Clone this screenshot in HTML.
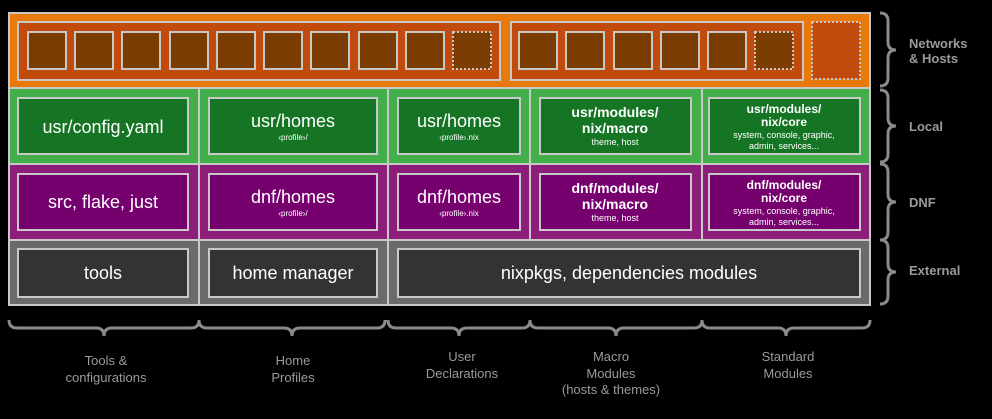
<!DOCTYPE html>
<html><head><meta charset="utf-8"><style>
html,body{margin:0;padding:0;background:#000;}
svg{display:block;}
text{font-family:"Liberation Sans","DejaVu Sans",sans-serif;fill:#fff;text-anchor:middle;}
.lbl{fill:#9a9a9a;font-weight:bold;font-size:13px;text-anchor:start;}
.bl{fill:#9a9a9a;font-size:13px;}
</style></head><body>
<svg width="992" height="419" viewBox="0 0 992 419" xmlns="http://www.w3.org/2000/svg">
<rect width="992" height="419" fill="#000"/>
<g stroke="#c8c8c8" stroke-width="2">
<!-- rows -->
<rect x="9" y="13" width="861" height="75" fill="#e87a0c"/>
<rect x="9" y="88" width="861" height="76" fill="#43ae4a"/>
<rect x="9" y="164" width="861" height="76" fill="#8c1d78"/>
<rect x="9" y="240" width="861" height="65" fill="#6a6a6a"/>
<line x1="199" y1="88" x2="199" y2="305"/>
<line x1="388" y1="88" x2="388" y2="305"/>
<line x1="530" y1="88" x2="530" y2="240"/>
<line x1="702" y1="88" x2="702" y2="240"/>
<!-- orange -->
<rect x="18" y="22" width="482" height="58" fill="#c14b0c"/>
<rect x="511" y="22" width="292" height="58" fill="#c14b0c"/>
<g fill="#7a3c00">
<rect x="28" y="32" width="38" height="37"/><rect x="75" y="32" width="38" height="37"/>
<rect x="122" y="32" width="38" height="37"/><rect x="170" y="32" width="38" height="37"/>
<rect x="217" y="32" width="38" height="37"/><rect x="264" y="32" width="38" height="37"/>
<rect x="311" y="32" width="38" height="37"/><rect x="359" y="32" width="38" height="37"/>
<rect x="406" y="32" width="38" height="37"/>
<rect x="519" y="32" width="38" height="37"/><rect x="566" y="32" width="38" height="37"/>
<rect x="614" y="32" width="38" height="37"/><rect x="661" y="32" width="38" height="37"/>
<rect x="708" y="32" width="38" height="37"/>
<rect x="453" y="32" width="38" height="37" stroke-dasharray="2,2"/>
<rect x="755" y="32" width="38" height="37" stroke-dasharray="2,2"/>
</g>
<rect x="812" y="22" width="48" height="57" fill="#c14b0c" stroke-dasharray="2,2"/>
<!-- green -->
<g fill="#167524">
<rect x="18" y="98" width="170" height="56"/><rect x="209" y="98" width="168" height="56"/>
<rect x="398" y="98" width="122" height="56"/><rect x="540" y="98" width="151" height="56"/>
<rect x="709" y="98" width="151" height="56"/>
</g>
<g fill="#76006e">
<rect x="18" y="174" width="170" height="56"/><rect x="209" y="174" width="168" height="56"/>
<rect x="398" y="174" width="122" height="56"/><rect x="540" y="174" width="151" height="56"/>
<rect x="709" y="174" width="151" height="56"/>
</g>
<g fill="#333">
<rect x="18" y="249" width="170" height="48"/><rect x="209" y="249" width="168" height="48"/>
<rect x="398" y="249" width="462" height="48"/>
</g>
</g>
<!-- text green -->
<text x="103" y="133" font-size="18">usr/config.yaml</text>
<text x="293" y="127" font-size="18">usr/homes</text>
<text x="293" y="140" font-size="8">‹profile›/</text>
<text x="459" y="127" font-size="18">usr/homes</text>
<text x="459" y="140" font-size="8">‹profile›.nix</text>
<text x="615" y="117" font-size="14" font-weight="bold">usr/modules/</text>
<text x="615" y="133" font-size="14" font-weight="bold">nix/macro</text>
<text x="615" y="145" font-size="9">theme, host</text>
<text x="784" y="113" font-size="12" font-weight="bold">usr/modules/</text>
<text x="784" y="126" font-size="12" font-weight="bold">nix/core</text>
<text x="784" y="138" font-size="9">system, console, graphic,</text>
<text x="784" y="149" font-size="9">admin, services...</text>
<!-- text purple -->
<text x="103" y="208" font-size="18">src, flake, just</text>
<text x="293" y="203" font-size="18">dnf/homes</text>
<text x="293" y="216" font-size="8">‹profile›/</text>
<text x="459" y="203" font-size="18">dnf/homes</text>
<text x="459" y="216" font-size="8">‹profile›.nix</text>
<text x="615" y="193" font-size="14" font-weight="bold">dnf/modules/</text>
<text x="615" y="209" font-size="14" font-weight="bold">nix/macro</text>
<text x="615" y="221" font-size="9">theme, host</text>
<text x="784" y="189" font-size="12" font-weight="bold">dnf/modules/</text>
<text x="784" y="202" font-size="12" font-weight="bold">nix/core</text>
<text x="784" y="214" font-size="9">system, console, graphic,</text>
<text x="784" y="225" font-size="9">admin, services...</text>
<!-- gray -->
<text x="103" y="279" font-size="18">tools</text>
<text x="293" y="279" font-size="18">home manager</text>
<text x="629" y="279" font-size="18">nixpkgs, dependencies modules</text>
<!-- right braces -->
<g fill="none" stroke="#8a8a8a" stroke-width="3">
<path d="M880 13 q8 0 8 8 v21 q0 8 8 8 q-8 0 -8 8 v20 q0 8 -8 8"/>
<path d="M880 90 q8 0 8 8 v20 q0 8 8 8 q-8 0 -8 8 v20 q0 8 -8 8"/>
<path d="M880 164 q8 0 8 8 v22 q0 8 8 8 q-8 0 -8 8 v22 q0 8 -8 8"/>
<path d="M880 240 q8 0 8 8 v16 q0 8 8 8 q-8 0 -8 8 v16 q0 8 -8 8"/>
<!-- bottom braces -->
<path d="M9 320 q0 8 8 8 h79 q8 0 8 8 q0 -8 8 -8 h79 q8 0 8 -8"/>
<path d="M199 320 q0 8 8 8 h77 q8 0 8 8 q0 -8 8 -8 h77 q8 0 8 -8"/>
<path d="M388 320 q0 8 8 8 h55 q8 0 8 8 q0 -8 8 -8 h55 q8 0 8 -8"/>
<path d="M530 320 q0 8 8 8 h70 q8 0 8 8 q0 -8 8 -8 h70 q8 0 8 -8"/>
<path d="M702 320 q0 8 8 8 h68 q8 0 8 8 q0 -8 8 -8 h68 q8 0 8 -8"/>
</g>
<text class="lbl" x="909" y="48">Networks</text>
<text class="lbl" x="909" y="63">&amp; Hosts</text>
<text class="lbl" x="909" y="131">Local</text>
<text class="lbl" x="909" y="207">DNF</text>
<text class="lbl" x="909" y="275">External</text>
<text class="bl" x="106" y="365">Tools &amp;</text>
<text class="bl" x="106" y="382">configurations</text>
<text class="bl" x="293" y="365">Home</text>
<text class="bl" x="293" y="382">Profiles</text>
<text class="bl" x="462" y="361">User</text>
<text class="bl" x="462" y="378">Declarations</text>
<text class="bl" x="611" y="361">Macro</text>
<text class="bl" x="611" y="378">Modules</text>
<text class="bl" x="611" y="394">(hosts &amp; themes)</text>
<text class="bl" x="788" y="361">Standard</text>
<text class="bl" x="788" y="378">Modules</text>
</svg>
</body></html>
